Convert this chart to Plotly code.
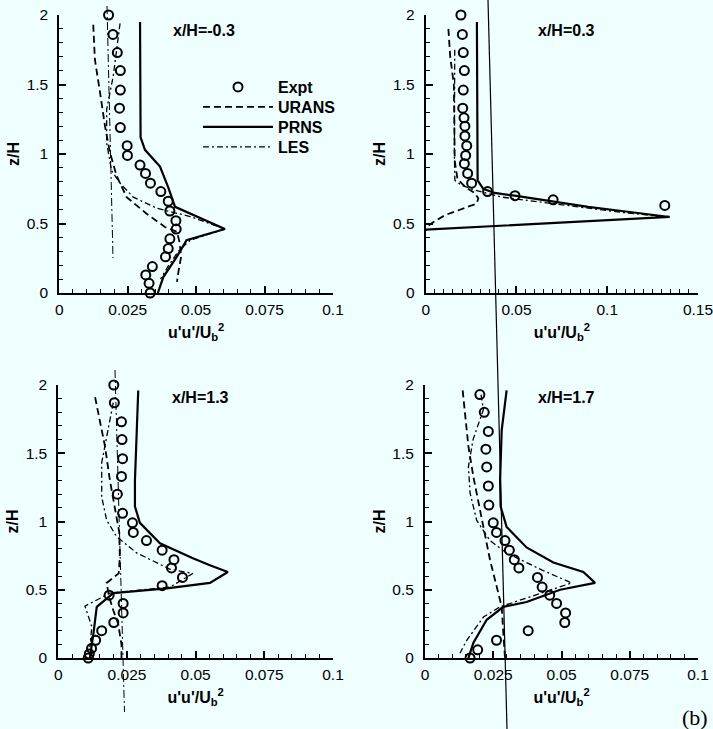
import plotly.graph_objects as go

# ---------------- data: x/H = -0.3 ----------------
p1_expt_z = [2.0, 1.86, 1.73, 1.60, 1.46, 1.33, 1.19, 1.06, 0.99, 0.92, 0.86, 0.79, 0.73, 0.66, 0.59, 0.52, 0.46, 0.39, 0.32, 0.26, 0.19, 0.13, 0.07, 0.0]
p1_expt_uu = [0.0180, 0.0196, 0.0212, 0.0223, 0.0223, 0.0220, 0.0223, 0.0248, 0.0249, 0.0295, 0.0315, 0.0333, 0.0371, 0.0398, 0.0404, 0.0426, 0.0427, 0.0404, 0.0398, 0.0388, 0.0340, 0.0316, 0.0328, 0.0332]
p1_urans_z = [1.93, 1.68, 1.44, 1.20, 1.01, 0.84, 0.69, 0.57, 0.475, 0.44, 0.36, 0.26, 0.15, 0.08]
p1_urans_uu = [0.0124, 0.0130, 0.0149, 0.0167, 0.0185, 0.0210, 0.0246, 0.0319, 0.0386, 0.0430, 0.0440, 0.0445, 0.0435, 0.0430]
p1_prns_z = [1.95, 1.12, 1.03, 0.91, 0.76, 0.62, 0.46, 0.38, 0.26, 0.115, 0.0]
p1_prns_uu = [0.0295, 0.0297, 0.0313, 0.0368, 0.0398, 0.0423, 0.0605, 0.0465, 0.0429, 0.0380, 0.0360]
p1_les_z = [1.94, 1.56, 1.32, 1.08, 0.88, 0.79, 0.69, 0.61, 0.55, 0.46, 0.38, 0.30, 0.20, 0.10]
p1_les_uu = [0.0222, 0.0197, 0.0173, 0.0173, 0.0191, 0.0222, 0.0270, 0.0356, 0.0478, 0.0605, 0.0478, 0.0435, 0.0400, 0.0370]

# ---------------- data: x/H = 0.3 ----------------
p2_expt_z = [2.0, 1.86, 1.73, 1.60, 1.46, 1.33, 1.26, 1.20, 1.13, 1.06, 0.99, 0.93, 0.86, 0.79, 0.73, 0.70, 0.67, 0.63]
p2_expt_uu = [0.0194, 0.0202, 0.0207, 0.0213, 0.0207, 0.0204, 0.0211, 0.0216, 0.0216, 0.0226, 0.0220, 0.0213, 0.0231, 0.0253, 0.0341, 0.0492, 0.0702, 0.1317]
p2_urans_z = [1.9, 1.7, 1.5, 1.2, 0.95, 0.82, 0.76, 0.72, 0.68, 0.643, 0.56, 0.495, 0.45]
p2_urans_uu = [0.0125, 0.0135, 0.0155, 0.0158, 0.0160, 0.0175, 0.0220, 0.0270, 0.0290, 0.0280, 0.0106, 0.0024, 0.0]
p2_prns_z = [1.95, 1.5, 1.0, 0.85, 0.81, 0.75, 0.72, 0.70, 0.655, 0.62, 0.59, 0.547, 0.456]
p2_prns_uu = [0.0282, 0.0282, 0.0284, 0.0285, 0.0286, 0.0317, 0.0380, 0.0490, 0.0710, 0.0895, 0.1080, 0.1344, 0.0]
p2_les_z = [1.75, 1.5, 1.0, 0.85, 0.81, 0.775, 0.74, 0.69, 0.64, 0.58, 0.55]
p2_les_uu = [0.0160, 0.0158, 0.0158, 0.0160, 0.0161, 0.0198, 0.0270, 0.0418, 0.0712, 0.1080, 0.1300]

# ---------------- data: x/H = 1.3 ----------------
p3_expt_z = [2.0, 1.87, 1.73, 1.60, 1.46, 1.33, 1.20, 1.06, 0.99, 0.92, 0.86, 0.79, 0.72, 0.66, 0.59, 0.53, 0.46, 0.40, 0.33, 0.26, 0.20, 0.13, 0.07, 0.03, 0.0]
p3_expt_uu = [0.0202, 0.0204, 0.0230, 0.0232, 0.0234, 0.0230, 0.0215, 0.0234, 0.0270, 0.0273, 0.0321, 0.0378, 0.0421, 0.0412, 0.0452, 0.0378, 0.0185, 0.0236, 0.0236, 0.0202, 0.0158, 0.0136, 0.0121, 0.0113, 0.0109]
p3_urans_z = [1.91, 1.55, 1.30, 1.11, 0.92, 0.74, 0.62, 0.55, 0.45, 0.35, 0.25, 0.10, 0.0]
p3_urans_uu = [0.0134, 0.0170, 0.0188, 0.0206, 0.0222, 0.0224, 0.0220, 0.0176, 0.0185, 0.0200, 0.0218, 0.0230, 0.0230]
p3_prns_z = [1.96, 1.30, 1.11, 0.99, 0.84, 0.73, 0.68, 0.63, 0.55, 0.51, 0.475, 0.375, 0.18, 0.0]
p3_prns_uu = [0.0291, 0.0279, 0.0279, 0.0297, 0.0370, 0.0490, 0.0552, 0.0617, 0.0552, 0.0395, 0.0200, 0.0140, 0.0128, 0.0115]
p3_les_z = [1.87, 1.67, 1.43, 1.18, 1.01, 0.89, 0.77, 0.65, 0.62, 0.52, 0.475, 0.38, 0.23, 0.08]
p3_les_uu = [0.0200, 0.0180, 0.0158, 0.0158, 0.0176, 0.0212, 0.0285, 0.0407, 0.0490, 0.0407, 0.0188, 0.0097, 0.0122, 0.0115]

# ---------------- data: x/H = 1.7 ----------------
p4_expt_z = [1.93, 1.80, 1.66, 1.53, 1.40, 1.26, 1.12, 0.99, 0.92, 0.86, 0.79, 0.72, 0.66, 0.59, 0.52, 0.46, 0.40, 0.33, 0.26, 0.20, 0.13, 0.06, 0.0]
p4_expt_uu = [0.0201, 0.0217, 0.0232, 0.0223, 0.0226, 0.0232, 0.0234, 0.0250, 0.0262, 0.0293, 0.0309, 0.0327, 0.0344, 0.0412, 0.0429, 0.0457, 0.0482, 0.0515, 0.0512, 0.0378, 0.0262, 0.0193, 0.0165]
p4_urans_z = [1.96, 1.79, 1.55, 1.33, 1.08, 0.89, 0.72, 0.52, 0.375, 0.18, 0.0]
p4_urans_uu = [0.0138, 0.0147, 0.0159, 0.0177, 0.0201, 0.0220, 0.0238, 0.0263, 0.0281, 0.0287, 0.0293]
p4_prns_z = [1.96, 1.67, 1.30, 1.11, 0.96, 0.81, 0.70, 0.63, 0.55, 0.50, 0.41, 0.375, 0.28, 0.11, 0.0]
p4_prns_uu = [0.0299, 0.0281, 0.0275, 0.0277, 0.0299, 0.0372, 0.0470, 0.0580, 0.0623, 0.0495, 0.0372, 0.0287, 0.0226, 0.0177, 0.0159]
p4_les_z = [1.93, 1.82, 1.60, 1.40, 1.21, 1.01, 0.86, 0.77, 0.64, 0.55, 0.48, 0.375, 0.30, 0.13, 0.035]
p4_les_uu = [0.0205, 0.0214, 0.0176, 0.0159, 0.0165, 0.0189, 0.0238, 0.0299, 0.0433, 0.0537, 0.0433, 0.0275, 0.0214, 0.0153, 0.0128]

panel_titles = ["x/H=-0.3", "x/H=0.3", "x/H=1.3", "x/H=1.7"]
series_names = ["Expt", "URANS", "PRNS", "LES"]

panels = [
    (p1_expt_uu, p1_expt_z, p1_urans_uu, p1_urans_z, p1_prns_uu, p1_prns_z, p1_les_uu, p1_les_z),
    (p2_expt_uu, p2_expt_z, p2_urans_uu, p2_urans_z, p2_prns_uu, p2_prns_z, p2_les_uu, p2_les_z),
    (p3_expt_uu, p3_expt_z, p3_urans_uu, p3_urans_z, p3_prns_uu, p3_prns_z, p3_les_uu, p3_les_z),
    (p4_expt_uu, p4_expt_z, p4_urans_uu, p4_urans_z, p4_prns_uu, p4_prns_z, p4_les_uu, p4_les_z),
]

W, H = 713, 729
BG = "#effefe"
FONT = "Liberation Sans, Arial, Helvetica, sans-serif"

def px_x(p):
    return p / W

def px_y(p):
    return 1 - p / H

# axis domains (pixel based)
xdoms = [[px_x(59.3), px_x(333)], [px_x(425.7), px_x(698)], [px_x(58.3), px_x(333)], [px_x(425), px_x(698)]]
ydoms = [[px_y(293), px_y(15)], [px_y(293), px_y(15)], [px_y(658), px_y(385)], [px_y(658), px_y(385)]]
xranges = [[0, 0.1], [0, 0.15], [0, 0.1], [0, 0.1]]
xdticks = [0.025, 0.05, 0.025, 0.025]

legend_ids = ["legend", "legend2", "legend3", "legend4"]

fig = go.Figure()

for i, (eu, ez, uu_, uz, pu, pz, lu, lz) in enumerate(panels):
    xa = "x" if i == 0 else f"x{i+1}"
    ya = "y" if i == 0 else f"y{i+1}"
    show = i == 0
    fig.add_trace(go.Scatter(x=eu, y=ez, mode="markers", name=series_names[0], legendgroup="e",
                             legend=legend_ids[0],
                             showlegend=show, xaxis=xa, yaxis=ya, cliponaxis=False,
                             marker=dict(symbol="circle-open", size=9, color="black", line=dict(width=2, color="black"))))
    fig.add_trace(go.Scatter(x=uu_, y=uz, mode="lines", name=series_names[1], legendgroup="u",
                             legend=legend_ids[1],
                             showlegend=show, xaxis=xa, yaxis=ya,
                             line=dict(color="black", width=1.8, dash="7px,4px")))
    fig.add_trace(go.Scatter(x=pu, y=pz, mode="lines", name=series_names[2], legendgroup="p",
                             legend=legend_ids[2],
                             showlegend=show, xaxis=xa, yaxis=ya,
                             line=dict(color="black", width=2.2)))
    fig.add_trace(go.Scatter(x=lu, y=lz, mode="lines", name=series_names[3], legendgroup="l",
                             legend=legend_ids[3],
                             showlegend=show, xaxis=xa, yaxis=ya,
                             line=dict(color="black", width=1.3, dash="6px,3px,2px,3px")))

layout = dict(
    width=W, height=H,
    margin=dict(l=0, r=0, t=0, b=0, autoexpand=False),
    paper_bgcolor=BG, plot_bgcolor=BG,
    font=dict(family=FONT, color="black", size=15),
    annotations=[],
    shapes=[],
)

legend_rows = [87, 107, 127, 147]
for lid, row in zip(legend_ids, legend_rows):
    layout[lid] = dict(x=px_x(198), y=px_y(row), xanchor="left", yanchor="middle",
                       bgcolor="rgba(0,0,0,0)", font=dict(size=16, family=FONT, weight="bold"),
                       itemwidth=70, borderwidth=0)

for i in range(4):
    xk = "xaxis" if i == 0 else f"xaxis{i+1}"
    yk = "yaxis" if i == 0 else f"yaxis{i+1}"
    ya = "y" if i == 0 else f"y{i+1}"
    xa = "x" if i == 0 else f"x{i+1}"
    layout[xk] = dict(
        domain=xdoms[i], anchor=ya, range=xranges[i], tick0=0, dtick=xdticks[i],
        ticks="inside", ticklen=7, tickwidth=1.5, tickcolor="black", automargin=False,
        showline=True, linewidth=2, linecolor="black", showgrid=False, zeroline=False,
        minor=dict(ticks="inside", ticklen=4, tickwidth=1.2, dtick=0.005, tickcolor="black", showgrid=False),
        tickfont=dict(size=15.5, family=FONT), ticklabelstandoff=1, ticklabeloverflow="allow",
        title=dict(text="<b>u'u'/U<sub>b</sub><sup>2</sup></b>", font=dict(size=16, family=FONT), standoff=10),
    )
    layout[yk] = dict(
        domain=ydoms[i], anchor=xa, range=[0, 2], tick0=0, dtick=0.5,
        ticks="inside", ticklen=7, tickwidth=1.5, tickcolor="black", automargin=False,
        showline=True, linewidth=2, linecolor="black", showgrid=False, zeroline=False,
        minor=dict(ticks="inside", ticklen=4, tickwidth=1.2, dtick=0.1, tickcolor="black", showgrid=False),
        tickfont=dict(size=15.5, family=FONT), ticklabelstandoff=6, ticklabeloverflow="allow",
        title=dict(text="<b>z/H</b>", font=dict(size=16, family=FONT), standoff=3),
    )

# panel titles
title_pos = [(204, 30), (566, 30), (200, 397), (566, 397)]
for t, (tx, ty) in zip(panel_titles, title_pos):
    layout["annotations"].append(dict(text=f"<b>{t}</b>", x=px_x(tx), y=px_y(ty), xref="paper", yref="paper",
                                      xanchor="center", yanchor="middle",
                                      showarrow=False, font=dict(size=16, family=FONT)))
layout["annotations"].append(dict(text="(b)", x=px_x(695), y=px_y(717), xref="paper", yref="paper",
                                  xanchor="center", yanchor="middle",
                                  showarrow=False, font=dict(size=22, family="Liberation Serif, Times New Roman, serif")))

# scan artefact lines
layout["shapes"] += [
    dict(type="line", xref="paper", yref="paper", x0=px_x(488), y0=px_y(0), x1=px_x(507), y1=px_y(729),
         line=dict(color="black", width=1.2)),
    dict(type="line", xref="paper", yref="paper", x0=px_x(107), y0=px_y(6), x1=px_x(113), y1=px_y(258),
         line=dict(color="black", width=1, dash="8px,3px,2px,3px")),
    dict(type="line", xref="paper", yref="paper", x0=px_x(115), y0=px_y(370), x1=px_x(124.5), y1=px_y(712),
         line=dict(color="black", width=1, dash="8px,3px,2px,3px")),
]

fig.update_layout(**layout)
fig.write_html("out.html", config={"displayModeBar": False},
               post_script="document.body.style.margin='0';document.body.style.background='" + BG + "';")
